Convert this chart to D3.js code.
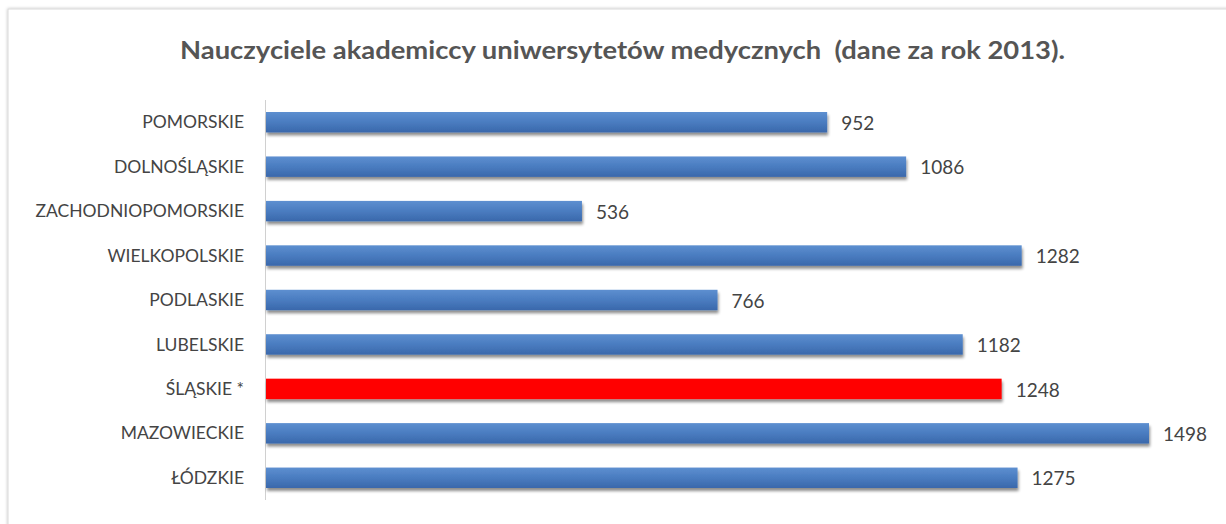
<!DOCTYPE html>
<html><head><meta charset="utf-8">
<script src="https://cdn.jsdelivr.net/npm/d3@7"></script>
<style>
html,body{margin:0;padding:0;background:#fff;}
svg{display:block;}
</style></head>
<body>
<svg id="c" width="1226" height="524"></svg>
<script>
const categories = ["POMORSKIE","DOLNOŚLĄSKIE","ZACHODNIOPOMORSKIE","WIELKOPOLSKIE","PODLASKIE","LUBELSKIE","ŚLĄSKIE *","MAZOWIECKIE","ŁÓDZKIE"];
const values = [952,1086,536,1282,766,1182,1248,1498,1275];
const highlight = ["ŚLĄSKIE *"];
const title = "Nauczyciele akademiccy uniwersytetów medycznych  (dane za rok 2013).";

const svg = d3.select("#c");
const W = 1226, H = 524;
const defs = svg.append("defs");
const gb = defs.append("linearGradient").attr("id","gblue").attr("x1",0).attr("y1",0).attr("x2",0).attr("y2",1);
gb.append("stop").attr("offset","0%").attr("stop-color","#5d8fd0");
gb.append("stop").attr("offset","50%").attr("stop-color","#4a7cc0");
gb.append("stop").attr("offset","100%").attr("stop-color","#3a68ab");
const f = defs.append("filter").attr("id","sh").attr("x","-5%").attr("y","-30%").attr("width","110%").attr("height","180%");
f.append("feGaussianBlur").attr("in","SourceAlpha").attr("stdDeviation",1.6).attr("result","b");
f.append("feOffset").attr("in","b").attr("dx",1).attr("dy",3).attr("result","o");
f.append("feComponentTransfer").attr("in","o").attr("result","oc").append("feFuncA").attr("type","linear").attr("slope",0.45);
const m = f.append("feMerge"); m.append("feMergeNode").attr("in","oc"); m.append("feMergeNode").attr("in","SourceGraphic");
const fr = defs.append("filter").attr("id","frame").attr("x","-2%").attr("y","-2%").attr("width","104%").attr("height","104%");
fr.append("feDropShadow").attr("dx",0).attr("dy",0).attr("stdDeviation",1.5).attr("flood-color","#000").attr("flood-opacity",0.25);

// frame
svg.append("rect").attr("x",8).attr("y",9).attr("width",W+10).attr("height",H+10)
  .attr("fill","#fff").attr("stroke","#d9d9d9").attr("stroke-width",1).attr("filter","url(#frame)");

svg.append("text").attr("x",180).attr("y",59)
  .style("white-space","pre")
  .attr("font-family","Lato, 'Open Sans', sans-serif").attr("font-weight","bold").attr("font-size",24)
  .attr("textLength",885).attr("lengthAdjust","spacingAndGlyphs")
  .attr("fill","#555").text(title);

const x = d3.scaleLinear().domain([0,1498]).range([266,1149]);
const y = d3.scaleBand().domain(categories).range([100,500]).paddingInner(0.54).paddingOuter(0.27);

svg.append("line").attr("x1",265.5).attr("x2",265.5).attr("y1",100).attr("y2",500)
  .attr("stroke","#d0d0d0").attr("stroke-width",1);

const g = svg.append("g");
g.selectAll("rect.bar").data(categories).join("rect").attr("class","bar")
  .attr("x",x(0)).attr("y",d=>y(d)).attr("height",y.bandwidth())
  .attr("width",(d,i)=>x(values[i])-x(0))
  .attr("fill",d=>highlight.includes(d)?"#ff0000":"url(#gblue)")
  .attr("filter","url(#sh)");

g.selectAll("text.cat").data(categories).join("text").attr("class","cat")
  .attr("x",244).attr("y",d=>y(d)+y.bandwidth()/2).attr("dy","0.35em").attr("text-anchor","end")
  .attr("font-family","Lato, 'Open Sans', sans-serif").attr("font-size",17.5).attr("fill","#444").text(d=>d);

g.selectAll("text.val").data(categories).join("text").attr("class","val")
  .attr("x",(d,i)=>x(values[i])+14).attr("y",d=>y(d)+y.bandwidth()/2+1).attr("dy","0.35em")
  .attr("font-family","Lato, 'Open Sans', sans-serif").attr("font-size",19).attr("fill","#444").text((d,i)=>values[i]);
</script>
</body></html>
